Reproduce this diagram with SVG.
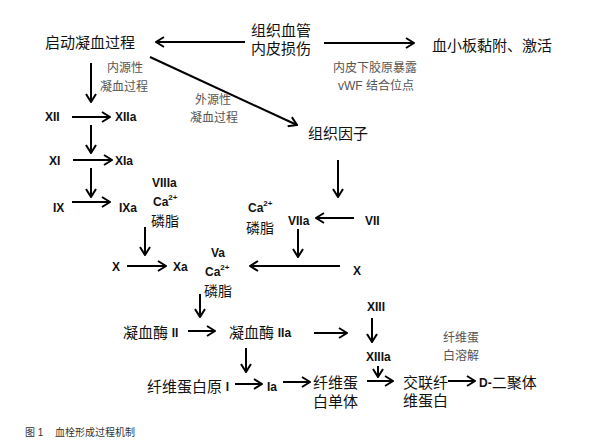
<svg xmlns="http://www.w3.org/2000/svg" width="597" height="441" viewBox="0 0 597 441">
<style>
.cj{font-family:"Liberation Serif","Noto Sans CJK SC",serif;font-size:15px;fill:#111;dominant-baseline:central}
.la{font-family:"Liberation Sans","Noto Sans CJK SC",sans-serif;font-size:12px;font-weight:bold;fill:#111;dominant-baseline:central}
.gr{font-family:"Liberation Sans","Noto Sans CJK SC",sans-serif;font-size:12px;fill:#555;dominant-baseline:central}
.ph{font-family:"Noto Sans CJK SC",sans-serif;font-size:14px;fill:#111;dominant-baseline:central}
.cap{font-family:"Liberation Sans","Noto Sans CJK SC",sans-serif;font-size:10px;fill:#333;dominant-baseline:central}
.sup{font-size:8px}
.ar{stroke:#000;stroke-width:2;fill:none;marker-end:url(#ah)}
</style>
<defs>
<marker id="ah" viewBox="0 0 10 12" refX="9" refY="6" markerWidth="10" markerHeight="12" markerUnits="userSpaceOnUse" orient="auto">
<path d="M1,1 L9,6 L1,11" fill="none" stroke="#000" stroke-width="2"/>
</marker>
</defs>
<rect width="597" height="441" fill="#fff"/>

<g id="connectors">
<line class="ar" x1="245" y1="42" x2="156" y2="42"/>
<line class="ar" x1="324" y1="43" x2="414" y2="43"/>
<line class="ar" x1="150" y1="57" x2="297" y2="125"/>
<line class="ar" x1="91" y1="63" x2="91" y2="102"/>
<line class="ar" x1="72" y1="117" x2="110" y2="117"/>
<line class="ar" x1="91" y1="125" x2="91" y2="153"/>
<line class="ar" x1="73" y1="160" x2="112" y2="160"/>
<line class="ar" x1="91" y1="168" x2="91" y2="197"/>
<line class="ar" x1="72" y1="202" x2="110" y2="202"/>
<line class="ar" x1="145" y1="227" x2="145" y2="255"/>
<line class="ar" x1="127" y1="266" x2="166" y2="266"/>
<line class="ar" x1="340" y1="266" x2="250" y2="266"/>
<line class="ar" x1="338" y1="160" x2="338" y2="197"/>
<line class="ar" x1="354" y1="218" x2="316" y2="218"/>
<line class="ar" x1="298" y1="229" x2="298" y2="257"/>
<line class="ar" x1="200" y1="294" x2="200" y2="317"/>
<line class="ar" x1="188" y1="331" x2="215" y2="331"/>
<line class="ar" x1="246" y1="348" x2="246" y2="372"/>
<line class="ar" x1="235" y1="384" x2="262" y2="384"/>
<line class="ar" x1="283" y1="382" x2="310" y2="382"/>
<line class="ar" x1="314" y1="333" x2="347" y2="333"/>
<line class="ar" x1="372" y1="318" x2="372" y2="342"/>
<line class="ar" x1="378" y1="366" x2="378" y2="377"/>
<line class="ar" x1="367" y1="381" x2="393" y2="381"/>
<line class="ar" x1="448" y1="381" x2="475" y2="381"/>
</g>

<g id="start"><text class="cj" x="45" y="43">启动凝血过程</text></g>
<g id="injury"><text class="cj" x="251" y="31">组织血管</text><text class="cj" x="251" y="49">内皮损伤</text></g>
<g id="platelet"><text class="cj" x="432" y="46">血小板黏附、激活</text></g>
<g id="collagen"><text class="gr" x="333" y="68">内皮下胶原暴露</text><text class="gr" x="338" y="86">vWF 结合位点</text></g>
<g id="intrinsic"><text class="gr" x="107" y="68">内源性</text><text class="gr" x="100" y="87">凝血过程</text></g>
<g id="extrinsic"><text class="gr" x="195" y="100">外源性</text><text class="gr" x="190" y="118">凝血过程</text></g>
<g id="tf"><text class="cj" x="308" y="134">组织因子</text></g>
<g id="f12"><text class="la" x="45" y="117">XII</text></g>
<g id="f12a"><text class="la" x="115" y="117">XIIa</text></g>
<g id="f11"><text class="la" x="49" y="161">XI</text></g>
<g id="f11a"><text class="la" x="115" y="161">XIa</text></g>
<g id="f9"><text class="la" x="53" y="208">IX</text></g>
<g id="f9a"><text class="la" x="119" y="208">IXa</text></g>
<g id="cof8"><text class="la" x="152" y="183">VIIIa</text><text class="la" x="153" y="202">Ca<tspan class="sup" dy="-5">2+</tspan></text><text class="ph" x="151" y="220">磷脂</text></g>
<g id="f10"><text class="la" x="112" y="267">X</text></g>
<g id="f10a"><text class="la" x="173" y="267">Xa</text></g>
<g id="cof5"><text class="la" x="211" y="253">Va</text><text class="la" x="205" y="272">Ca<tspan class="sup" dy="-5">2+</tspan></text><text class="ph" x="204" y="290">磷脂</text></g>
<g id="cof7"><text class="la" x="248" y="208">Ca<tspan class="sup" dy="-5">2+</tspan></text><text class="ph" x="246" y="227">磷脂</text></g>
<g id="f7a"><text class="la" x="288" y="221">VIIa</text></g>
<g id="f7"><text class="la" x="365" y="221">VII</text></g>
<g id="f10b"><text class="la" x="353" y="271">X</text></g>
<g id="thrombin2"><text class="cj" x="123" y="333">凝血酶 <tspan class="la" font-size="12">II</tspan></text></g>
<g id="thrombin2a"><text class="cj" x="229" y="333">凝血酶 <tspan class="la" font-size="12">IIa</tspan></text></g>
<g id="f13"><text class="la" x="367" y="307">XIII</text></g>
<g id="f13a"><text class="la" x="366" y="357">XIIIa</text></g>
<g id="fibrinogen"><text class="cj" x="147" y="387">纤维蛋白原 <tspan class="la" font-size="12">I</tspan></text></g>
<g id="f1a"><text class="la" x="267" y="387">Ia</text></g>
<g id="monomer"><text class="cj" x="313" y="383">纤维蛋</text><text class="cj" x="313" y="402">白单体</text></g>
<g id="crosslinked"><text class="cj" x="403" y="383">交联纤</text><text class="cj" x="403" y="401">维蛋白</text></g>
<g id="ddimer"><text class="cj" x="479" y="383"><tspan class="la" font-size="12">D-</tspan>二聚体</text></g>
<g id="fibrinolysis"><text class="gr" x="443" y="338">纤维蛋</text><text class="gr" x="443" y="356">白溶解</text></g>
<g id="caption"><text class="cap" x="25" y="432">图 1</text><text class="cap" x="55" y="432">血栓形成过程机制</text></g>
</svg>
